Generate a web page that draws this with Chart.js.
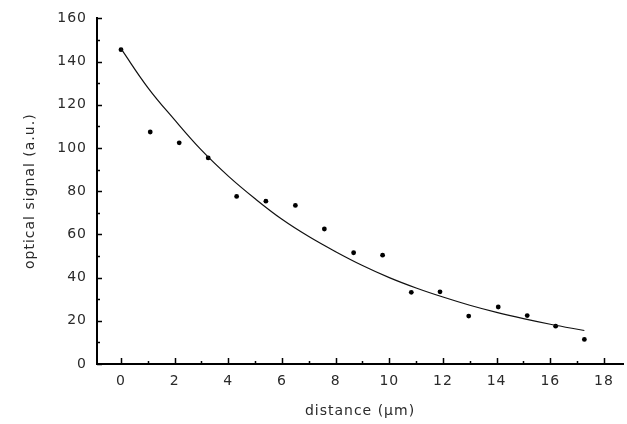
<!DOCTYPE html>
<html>
<head>
<meta charset="utf-8">
<script src="https://cdn.jsdelivr.net/npm/chart.js@4/dist/chart.umd.min.js"></script>
<style>
  html, body { margin: 0; padding: 0; background: #fff; }
  #wrap { width: 627px; height: 424px; }
</style>
</head>
<body>
<div id="wrap"><canvas id="chart"></canvas></div>
<script>
// Measured optical signal along the distance
const distance = [0, 1.09, 2.17, 3.25, 4.31, 5.40, 6.50, 7.58, 8.67, 9.75, 10.82, 11.89, 12.96, 14.06, 15.14, 16.20, 17.27];
const signal   = [145.5, 107.4, 102.4, 95.4, 77.6, 75.4, 73.4, 62.5, 51.5, 50.4, 33.2, 33.4, 22.2, 26.4, 22.4, 17.5, 11.4];

// Fitted decay curve
const fitDistance = [0, 1, 2, 3, 4, 5, 6, 7, 8, 9, 10, 11, 12, 13, 14, 15, 16, 17.27];
const fitSignal   = [146, 128, 113, 99, 87, 76.5, 67, 59, 52, 45.6, 40, 35.2, 31, 27.2, 23.9, 21, 18.4, 15.5];

// Axis ticks
const xTickValues = [0, 2, 4, 6, 8, 10, 12, 14, 16, 18];
const xMinorValues = [1, 3, 5, 7, 9, 11, 13, 15, 17];
const yTickValues = [0, 20, 40, 60, 80, 100, 120, 140, 160];
const yTickLabels = ['0', '20', '40', '60', '80', '100', '120', '140', '160'];
const yMinorValues = [10, 30, 50, 70, 90, 110, 130, 150];

const FONT = 'DejaVu Sans';
const INK = '#2a2a2a';

// Inward-pointing tick marks on both axes
const innerTicks = {
  id: 'innerTicks',
  beforeUpdate(chart) { chart.ctx.letterSpacing = '1px'; },
  beforeDraw(chart) { chart.ctx.letterSpacing = '1px'; },
  afterDraw(chart) {
    const { ctx, chartArea, scales } = chart;
    const x = scales.x, y = scales.y;
    ctx.save();
    ctx.strokeStyle = '#000';
    ctx.lineWidth = 1.5;
    ctx.beginPath();
    const mark = (px, py, dx, dy) => { ctx.moveTo(px, py); ctx.lineTo(px + dx, py + dy); };
    xTickValues.forEach(v => mark(Math.round(x.getPixelForValue(v)) + 0.5, chartArea.bottom, 0, -6));
    xMinorValues.forEach(v => mark(Math.round(x.getPixelForValue(v)) + 0.5, chartArea.bottom, 0, -3));
    yTickValues.forEach(v => mark(chartArea.left, Math.round(y.getPixelForValue(v)) + 0.5, 5, 0));
    yMinorValues.forEach(v => mark(chartArea.left, Math.round(y.getPixelForValue(v)) + 0.5, 3, 0));
    ctx.stroke();
    ctx.restore();
  }
};

new Chart(document.getElementById('chart'), {
  type: 'scatter',
  data: {
    datasets: [
      {
        label: 'fit',
        data: fitDistance.map((d, i) => ({ x: d, y: fitSignal[i] })),
        showLine: true,
        borderColor: '#111',
        borderWidth: 1.2,
        pointRadius: 0,
        tension: 0.4,
        fill: false
      },
      {
        label: 'measured',
        data: distance.map((d, i) => ({ x: d, y: signal[i] })),
        showLine: false,
        pointRadius: 2.4,
        pointBackgroundColor: '#000',
        pointBorderColor: '#000',
        pointBorderWidth: 0
      }
    ]
  },
  options: {
    responsive: true,
    maintainAspectRatio: false,
    animation: false,
    layout: { padding: { top: 13, right: 0, bottom: 0, left: 0 } },
    plugins: { legend: { display: false }, tooltip: { enabled: false } },
    scales: {
      x: {
        type: 'linear',
        min: -0.894,
        max: 18.71,
        afterBuildTicks(scale) { scale.ticks = xTickValues.map(v => ({ value: v })); },
        afterFit(scale) { scale.height = 60; },
        grid: { display: true, drawOnChartArea: false, drawTicks: false },
        border: { display: true, color: '#000', width: 2 },
        ticks: {
          padding: 9,
          color: INK,
          font: { family: FONT, size: 14 },
          maxRotation: 0,
          autoSkip: false,
          callback: v => String(v)
        },
        title: {
          display: true,
          text: 'distance (µm)',
          color: INK,
          font: { family: FONT, size: 14 },
          padding: { top: 4, bottom: 4 }
        }
      },
      y: {
        type: 'linear',
        min: 0,
        max: 160,
        afterBuildTicks(scale) { scale.ticks = yTickValues.map(v => ({ value: v })); },
        afterFit(scale) { scale.width = 97; },
        grid: { display: true, drawOnChartArea: false, drawTicks: false },
        border: { display: true, color: '#000', width: 2 },
        ticks: {
          padding: 10,
          color: INK,
          font: { family: FONT, size: 14 },
          autoSkip: false,
          callback: (v, i) => yTickLabels[yTickValues.indexOf(v)]
        },
        title: {
          display: true,
          text: 'optical signal (a.u.)',
          color: INK,
          font: { family: FONT, size: 14 },
          padding: { top: 22, bottom: 4 }
        }
      }
    }
  },
  plugins: [innerTicks]
});
</script>
</body>
</html>
